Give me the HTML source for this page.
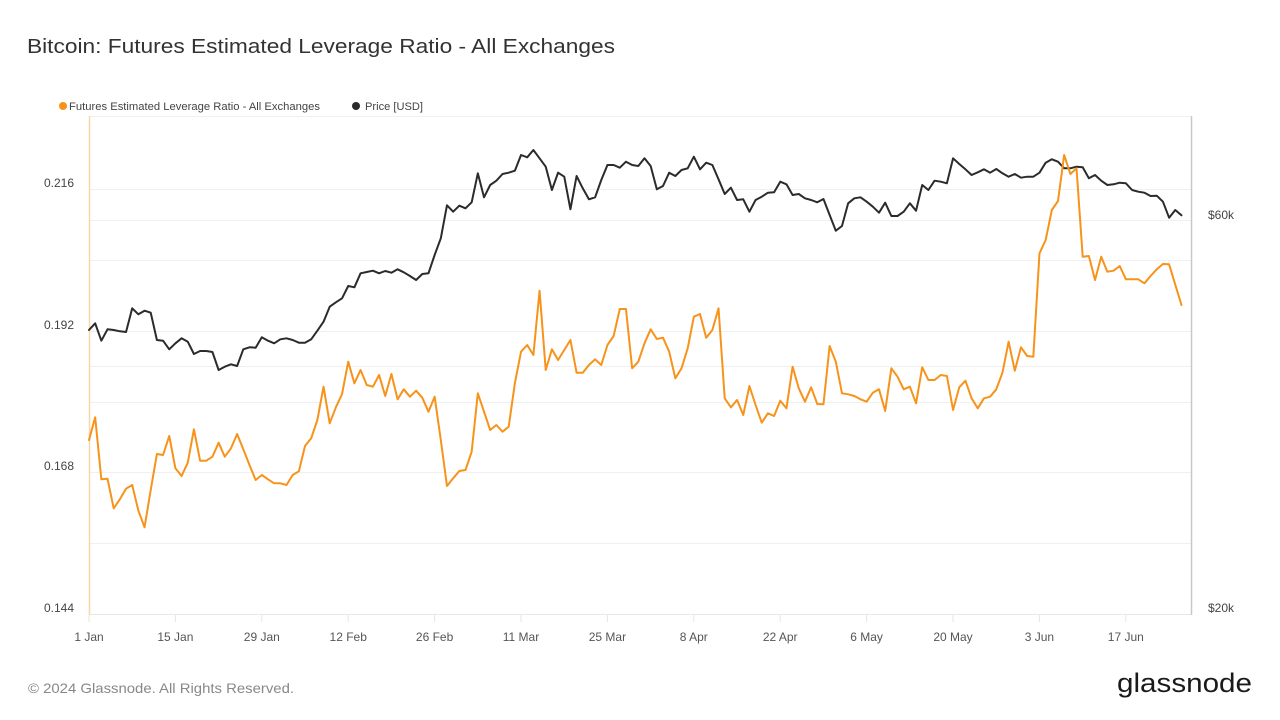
<!DOCTYPE html>
<html>
<head>
<meta charset="utf-8">
<style>
  html,body{margin:0;padding:0;background:#fff;}
  body{width:1280px;height:720px;overflow:hidden;}
  svg{display:block;}
  text{font-family:"Liberation Sans",Arial,sans-serif;}
</style>
</head>
<body>
<svg width="1280" height="720" viewBox="0 0 1280 720" xmlns="http://www.w3.org/2000/svg">
  <rect width="1280" height="720" fill="#ffffff"/>

  <!-- Title -->
  <text x="27" y="53" font-size="20" fill="#333333" textLength="588" lengthAdjust="spacingAndGlyphs">Bitcoin: Futures Estimated Leverage Ratio - All Exchanges</text>

  <!-- Legend -->
  <circle cx="63" cy="106" r="4" fill="#f7931a"/>
  <text x="69" y="110" font-size="11" fill="#444444" textLength="251" lengthAdjust="spacingAndGlyphs">Futures Estimated Leverage Ratio - All Exchanges</text>
  <circle cx="356" cy="106" r="4" fill="#2b2b2b"/>
  <text x="365" y="110" font-size="11" fill="#444444" textLength="58" lengthAdjust="spacingAndGlyphs">Price [USD]</text>

  <!-- Gridlines -->
  <g stroke="#f0f0f0" stroke-width="1">
    <line x1="89" y1="116.5" x2="1191" y2="116.5"/>
    <line x1="89" y1="189.5" x2="1191" y2="189.5"/>
    <line x1="89" y1="220.5" x2="1191" y2="220.5"/>
    <line x1="89" y1="260.5" x2="1191" y2="260.5"/>
    <line x1="89" y1="331.5" x2="1191" y2="331.5"/>
    <line x1="89" y1="366.5" x2="1191" y2="366.5"/>
    <line x1="89" y1="402.5" x2="1191" y2="402.5"/>
    <line x1="89" y1="472.5" x2="1191" y2="472.5"/>
    <line x1="89" y1="543.5" x2="1191" y2="543.5"/>
  </g>
  <line x1="89" y1="614.5" x2="1191" y2="614.5" stroke="#e8e8e8" stroke-width="1"/>

  <!-- Axis lines -->
  <line x1="89.5" y1="116" x2="89.5" y2="615" stroke="#f8d7a6" stroke-width="1.5"/>
  <line x1="1191.5" y1="116" x2="1191.5" y2="615" stroke="#c8c8c8" stroke-width="1.5"/>

  <!-- X ticks -->
  <g stroke="#e6e6e6" stroke-width="1">
    <line x1="89" y1="615" x2="89" y2="622"/>
    <line x1="175.4" y1="615" x2="175.4" y2="622"/>
    <line x1="261.8" y1="615" x2="261.8" y2="622"/>
    <line x1="348.2" y1="615" x2="348.2" y2="622"/>
    <line x1="434.6" y1="615" x2="434.6" y2="622"/>
    <line x1="521" y1="615" x2="521" y2="622"/>
    <line x1="607.4" y1="615" x2="607.4" y2="622"/>
    <line x1="693.8" y1="615" x2="693.8" y2="622"/>
    <line x1="780.2" y1="615" x2="780.2" y2="622"/>
    <line x1="866.6" y1="615" x2="866.6" y2="622"/>
    <line x1="953" y1="615" x2="953" y2="622"/>
    <line x1="1039.4" y1="615" x2="1039.4" y2="622"/>
    <line x1="1125.8" y1="615" x2="1125.8" y2="622"/>
  </g>

  <!-- X labels -->
  <g font-size="12" fill="#555555" text-anchor="middle">
    <text x="89" y="641">1 Jan</text>
    <text x="175.4" y="641">15 Jan</text>
    <text x="261.8" y="641">29 Jan</text>
    <text x="348.2" y="641">12 Feb</text>
    <text x="434.6" y="641">26 Feb</text>
    <text x="521" y="641">11 Mar</text>
    <text x="607.4" y="641">25 Mar</text>
    <text x="693.8" y="641">8 Apr</text>
    <text x="780.2" y="641">22 Apr</text>
    <text x="866.6" y="641">6 May</text>
    <text x="953" y="641">20 May</text>
    <text x="1039.4" y="641">3 Jun</text>
    <text x="1125.8" y="641">17 Jun</text>
  </g>

  <!-- Left axis labels -->
  <g font-size="12" fill="#444444" text-anchor="end">
    <text x="74" y="187">0.216</text>
    <text x="74" y="329">0.192</text>
    <text x="74" y="470">0.168</text>
    <text x="74" y="612">0.144</text>
  </g>

  <!-- Right axis labels -->
  <g font-size="12" fill="#444444">
    <text x="1208" y="219">$60k</text>
    <text x="1208" y="612">$20k</text>
  </g>

  <!-- Price series -->
  <g transform="translate(89,0) scale(6.172,1)">
    <polyline fill="none" stroke="#2b2b2b" stroke-width="2" stroke-linejoin="round" stroke-linecap="round" vector-effect="non-scaling-stroke"
      points="0,330 1,323.3 2,340.7 3,329.3 4,330 5,331.3 6,332 7,308.3 8,314.3 9,310.7 10,312.7 11,340 12,340.7 13,349.3 14,343.3 15,338.3 16,341.7 17,354 18,351 19,351 20,352 21,370 22,366.7 23,364.3 24,366 25,349.3 26,347.3 27,347.7 28,337.3 29,340.7 30,343.3 31,339.3 32,338.3 33,340 34,342.7 35,342.7 36,339.3 37,330.7 38,321.7 39,306.7 40,302.3 41,298.3 42,286 43,287.3 44,273.3 45,272 46,270.7 47,273.3 48,271 49,272.7 50,269.3 51,272.3 52,276 53,280 54,274 55,273.3 56,255 57,238.3 58,205.3 59,211.7 60,205.7 61,208.3 62,202.3 63,173.3 64,197.3 65,185 66,180.7 67,174 68,172.7 69,170.7 70,155 71,157.3 72,150 73,158.3 74,166.7 75,190 76,172.7 77,176.7 78,209.3 79,176 80,188.3 81,199.3 82,197.3 83,180 84,165 85,165 86,167.7 87,161.7 88,165 89,166 90,158.3 91,166 92,189.3 93,186 94,172.7 95,176 96,170 97,168.3 98,156.7 99,169.3 100,162.7 101,165 102,179.3 103,194 104,187.7 105,200 106,199.3 107,211.7 108,200 109,196.7 110,192.7 111,192.3 112,181.7 113,184.3 114,195 115,194 116,198.3 117,200 118,202.3 119,199 120,215 121,230.7 122,226 123,203.3 124,198.3 125,197.3 126,201.7 127,206.7 128,212.7 129,202.7 130,216 131,216 132,211.7 133,203.3 134,210.7 135,185 136,190 137,180.7 138,181.7 139,183.3 140,158.3 141,164 142,169.3 143,175 144,172.3 145,169.3 146,172.7 147,169 148,173.3 149,176.7 150,174 151,177.7 152,176.7 153,176.7 154,172.7 155,162.7 156,159.3 157,161.7 158,168.3 159,168.3 160,166.7 161,167.3 162,178.3 163,175 164,180.7 165,185 166,184.3 167,182.7 168,183.3 169,190 170,191.7 171,192.7 172,196 173,195.7 174,201.7 175,217.7 176,210 177,215.3"/>
  </g>

  <!-- Leverage ratio series -->
  <g transform="translate(89,0) scale(6.172,1)">
    <polyline fill="none" stroke="#f7931a" stroke-width="2" stroke-linejoin="round" stroke-linecap="round" vector-effect="non-scaling-stroke"
      points="0,440 1,417.3 2,479.3 3,478.7 4,508.3 5,499.3 6,488.7 7,485 8,510.7 9,527.3 10,490 11,454 12,455 13,436 14,468.3 15,476 16,462.7 17,429.3 18,460.7 19,460.7 20,456.7 21,442.7 22,456.7 23,448.3 24,434 25,449.3 26,465 27,480 28,475 29,479.3 30,483.3 31,483.3 32,485 33,475 34,471.3 35,446 36,438.3 37,420 38,386.7 39,423.3 40,407.3 41,394 42,361.7 43,383.3 44,370 45,385 46,386.7 47,375 48,396 49,374 50,399.3 51,389.3 52,396.7 53,390.7 54,397.7 55,411.7 56,396.7 57,440 58,486 59,478.3 60,471 61,470 62,451.7 63,393.3 64,411.7 65,430 66,425 67,431.7 68,426.7 69,383.3 70,351.7 71,345 72,355 73,290.7 74,370 75,349.3 76,360 77,350 78,340 79,372.7 80,372.7 81,365 82,359.3 83,365 84,345 85,336 86,309 87,309 88,368.3 89,361.7 90,343.3 91,329.3 92,339 93,337.7 94,351.7 95,378.3 96,368.3 97,348.3 98,316.7 99,314 100,337.7 101,330 102,308.3 103,398.3 104,407.3 105,400 106,415 107,386 108,405 109,422.7 110,413.3 111,416 112,400.7 113,408.3 114,366.7 115,388.3 116,401.7 117,387.3 118,404 119,404.3 120,346 121,361.7 122,393.3 123,394.3 124,396 125,399.3 126,401.7 127,392.7 128,389.3 129,411 130,368.3 131,376.7 132,389.3 133,386.7 134,403.3 135,367.3 136,380 137,380 138,375 139,376 140,410 141,387.3 142,380.7 143,398.3 144,408.3 145,398.3 146,396.7 147,389.3 148,372.7 149,341.7 150,370.7 151,347.3 152,356 153,356.7 154,253.3 155,240 156,210 157,201 158,155 159,174 160,168.3 161,256.7 162,256 163,280 164,256.7 165,271.7 166,270.7 167,266 168,279.3 169,279.3 170,279.3 171,283.3 172,276 173,269.3 174,264 175,264.3 176,284.7 177,305"/>
  </g>

  <!-- Footer -->
  <text x="28" y="693" font-size="14" fill="#888888" textLength="266" lengthAdjust="spacingAndGlyphs">© 2024 Glassnode. All Rights Reserved.</text>
  <text x="1117" y="692" font-size="27" fill="#1a1a1a" textLength="135" lengthAdjust="spacingAndGlyphs">glassnode</text>
</svg>
</body>
</html>
